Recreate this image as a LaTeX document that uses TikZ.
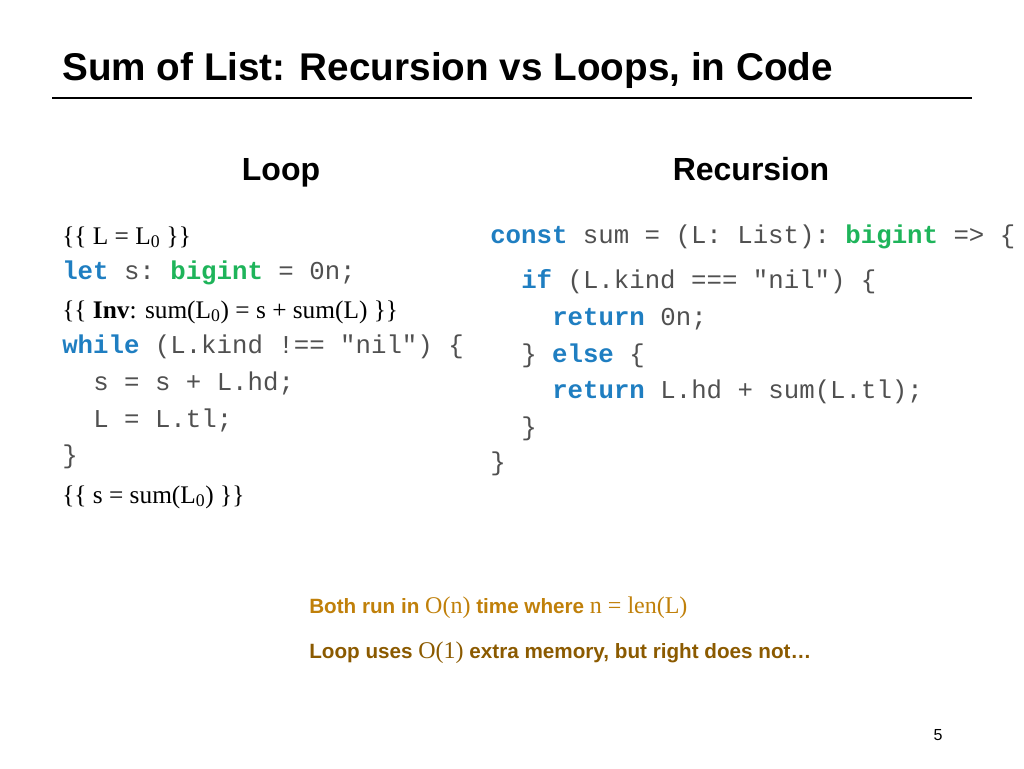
\documentclass[tikz,border=0pt]{standalone}
\usepackage{fontspec}
\setsansfont{Liberation Sans}
\setmonofont{Liberation Mono}
\newfontfamily\mathser{Liberation Serif}
\definecolor{kwblue}{HTML}{1F7EC1}
\definecolor{tygreen}{HTML}{1EB45A}
\definecolor{codegray}{HTML}{505050}
\definecolor{noteorange}{HTML}{C0800A}
\definecolor{notebrown}{HTML}{8B5A00}
\newcommand{\kw}[1]{\textbf{\color{kwblue}#1}}
\newcommand{\ty}[1]{\textbf{\color{tygreen}#1}}

\begin{document}
\begin{tikzpicture}[x=0.75pt,y=-0.75pt,
    code/.style={anchor=base west,inner sep=0pt,font=\ttfamily\fontsize{19.3}{22}\selectfont,text=codegray},
    assert/.style={anchor=base west,inner sep=0pt,font=\mathser\fontsize{19}{22}\selectfont,text=black},
    head/.style={anchor=base,inner sep=0pt,font=\sffamily\bfseries\fontsize{24}{28}\selectfont},
    note/.style={anchor=base west,inner sep=0pt,font=\sffamily\bfseries\fontsize{15.5}{18}\selectfont}]
  \useasboundingbox (0,0) rectangle (1024,768);
  % title
  \node[anchor=base west,inner sep=0pt,font=\sffamily\bfseries\fontsize{29}{32}\selectfont] (title) at (62,80)
    {\scalebox{1.0}[1]{Sum of List: Recursion vs Loops, in Code}};
  \coordinate (rl) at (52,98);
  \coordinate (rr) at (972,98);
  \draw[line width=2.2pt] (rl) -- (rr);
  % headers
  \node[head] (hloop) at (281,180) {Loop};
  \node[head] (hrec) at (751,180) {Recursion};
  % loop code
  \node[assert] (l1) at (62,244) {\{\{ L = L\textsubscript{0} \}\}};
  \node[code] (l2) at (62,279) {\kw{let} s: \ty{bigint} = 0n;};
  \node[assert] (l3) at (62,318) {\{\{ \textbf{Inv}: sum(L\textsubscript{0}) = s + sum(L) \}\}};
  \node[code] (l4) at (62,353) {\kw{while} (L.kind !== "nil") \{};
  \node[code] (l5) at (93,390) {s = s + L.hd;};
  \node[code] (l6) at (93,427) {L = L.tl;};
  \node[code] (l7) at (62,463) {\}};
  \node[assert] (l8) at (62,503) {\{\{ s = sum(L\textsubscript{0}) \}\}};
  % recursion code
  \node[code] (r1) at (490,243) {\kw{const} sum = (L: List): \ty{bigint} => \{};
  \node[code] (r2) at (521,288) {\kw{if} (L.kind === "nil") \{};
  \node[code] (r3) at (552,325) {\kw{return} 0n;};
  \node[code] (r4) at (521,362) {\} \kw{else} \{};
  \node[code] (r5) at (552,398) {\kw{return} L.hd + sum(L.tl);};
  \node[code] (r6) at (521,435) {\}};
  \node[code] (r7) at (490,470) {\}};
  % notes
  \node[note,text=noteorange] (n1) at (309,613)
    {Both run in {\mathser\mdseries\fontsize{18}{20}\selectfont O(n)} time where {\mathser\mdseries\fontsize{18}{20}\selectfont n = len(L)}};
  \node[note,text=notebrown] (n2) at (309,658)
    {Loop uses {\mathser\mdseries\fontsize{18}{20}\selectfont O(1)} extra memory, but right does not\ldots};
  \node[anchor=base,inner sep=0pt,font=\sffamily\fontsize{12}{14}\selectfont] (pg) at (938,740) {5};
\end{tikzpicture}
\end{document}
